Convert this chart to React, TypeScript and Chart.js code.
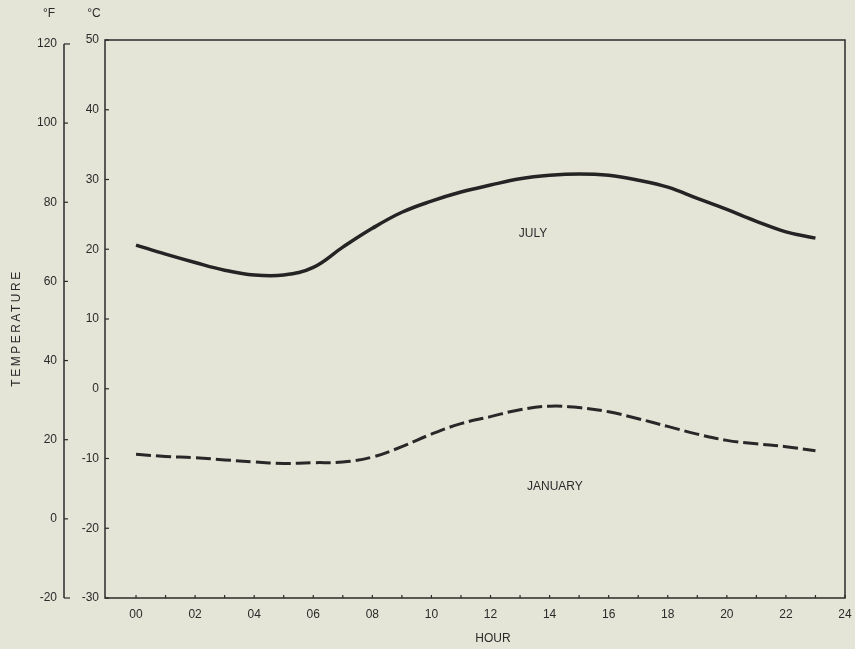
import React, { useEffect, useRef } from "react";
import { Chart, registerables } from "chart.js";

Chart.register(...registerables);

const hours = [0, 1, 2, 3, 4, 5, 6, 7, 8, 9, 10, 11, 12, 13, 14, 15, 16, 17, 18, 19, 20, 21, 22, 23];
const julyC = [20.6, 19.3, 18.1, 17.0, 16.3, 16.3, 17.4, 20.3, 23.0, 25.3, 26.9, 28.2, 29.2, 30.1, 30.6, 30.8, 30.6, 29.9, 28.9, 27.3, 25.7, 24.0, 22.5, 21.6];
const januaryC = [-9.4, -9.7, -9.9, -10.2, -10.5, -10.7, -10.6, -10.5, -9.8, -8.3, -6.5, -5.0, -4.0, -3.0, -2.5, -2.7, -3.3, -4.3, -5.4, -6.5, -7.4, -7.9, -8.3, -8.9];

const hourTicks = [0, 2, 4, 6, 8, 10, 12, 14, 16, 18, 20, 22, 24];
const hourMinorTicks = [0, 1, 2, 3, 4, 5, 6, 7, 8, 9, 10, 11, 12, 13, 14, 15, 16, 17, 18, 19, 20, 21, 22, 23, 24];
const fTicks = [-20, 0, 20, 40, 60, 80, 100, 120];
const cTicks = [-30, -20, -10, 0, 10, 20, 30, 40, 50];

const seriesNames = ["JULY", "JANUARY"];
const labelHours = [13.44, 14.18];
const labelTemps = [22.3, -14.1];

const INK = "#2a2a2a";
const BG = "#e4e5d7";
const FONT = "'Liberation Sans', Arial, Helvetica, sans-serif";

const decorPlugin = {
  id: "decor",
  beforeDraw(chart: any) {
    const { ctx, width, height } = chart;
    ctx.save();
    ctx.fillStyle = BG;
    ctx.fillRect(0, 0, width, height);
    ctx.restore();
  },
  afterDraw(chart: any) {
    const { ctx, chartArea } = chart;
    const x = chart.scales.x;
    const yC = chart.scales.yC;
    const yF = chart.scales.yF;
    ctx.save();
    ctx.strokeStyle = INK;
    ctx.lineWidth = 1.5;
    ctx.strokeRect(chartArea.left, chartArea.top, chartArea.right - chartArea.left, chartArea.bottom - chartArea.top);
    ctx.lineWidth = 1.2;
    cTicks.forEach((v) => {
      const py = yC.getPixelForValue(v);
      ctx.beginPath();
      ctx.moveTo(chartArea.left, py);
      ctx.lineTo(chartArea.left + 4, py);
      ctx.stroke();
    });
    const fx = yF.right;
    const fTop = yF.getPixelForValue(fTicks[fTicks.length - 1]);
    const fBot = yF.getPixelForValue(fTicks[0]);
    ctx.lineWidth = 1.5;
    ctx.beginPath();
    ctx.moveTo(fx, fTop);
    ctx.lineTo(fx, fBot);
    ctx.stroke();
    ctx.lineWidth = 1.2;
    fTicks.forEach((v, i) => {
      const py = yF.getPixelForValue(v);
      const len = i === 0 || i === fTicks.length - 1 ? 6 : 4;
      ctx.beginPath();
      ctx.moveTo(fx, py);
      ctx.lineTo(fx + len, py);
      ctx.stroke();
    });
    hourMinorTicks.forEach((h) => {
      const px = x.getPixelForValue(h);
      ctx.beginPath();
      ctx.moveTo(px, chartArea.bottom);
      ctx.lineTo(px, chartArea.bottom - 3);
      ctx.stroke();
    });
    ctx.fillStyle = INK;
    ctx.font = `12px ${FONT}`;
    ctx.textAlign = "center";
    ctx.textBaseline = "middle";
    seriesNames.forEach((name, i) => {
      ctx.fillText(name, x.getPixelForValue(labelHours[i]), yC.getPixelForValue(labelTemps[i]));
    });
    ctx.fillText("HOUR", 493, 639);
    ctx.fillText("°F", 49, 14);
    ctx.fillText("°C", 94, 14);
    ctx.save();
    ctx.translate(17, 328);
    ctx.rotate(-Math.PI / 2);
    (ctx as any).letterSpacing = "2.5px";
    ctx.fillText("TEMPERATURE", 0, 0);
    ctx.restore();
    ctx.restore();
  },
};

export default function App() {
  const ref = useRef<HTMLCanvasElement>(null);
  useEffect(() => {
    document.body.style.margin = "0";
    document.body.style.background = BG;
    const canvas = ref.current!;
    const chart = new Chart(canvas, {
      type: "line",
      data: {
        datasets: [
          {
            label: "JULY",
            data: hours.map((h, i) => ({ x: h, y: julyC[i] })),
            borderColor: "#242424",
            borderWidth: 3.5,
            pointRadius: 0,
            tension: 0.4,
            fill: false,
            yAxisID: "yC",
          },
          {
            label: "JANUARY",
            data: hours.map((h, i) => ({ x: h, y: januaryC[i] })),
            borderColor: "#282828",
            borderWidth: 3,
            borderDash: [15, 5],
            pointRadius: 0,
            tension: 0.4,
            fill: false,
            yAxisID: "yC",
          },
        ],
      },
      options: {
        animation: false,
        responsive: false,
        maintainAspectRatio: false,
        layout: { padding: { top: 40, right: 10, left: 0, bottom: 0 } },
        plugins: { legend: { display: false }, tooltip: { enabled: false } },
        scales: {
          x: {
            type: "linear",
            min: -1.05,
            max: 24,
            grid: { display: false, drawTicks: false },
            border: { display: false },
            afterBuildTicks: (s: any) => {
              s.ticks = hourTicks.map((v) => ({ value: v }));
            },
            afterFit: (s: any) => {
              s.height = 51;
              s.paddingLeft = 0;
              s.paddingRight = 0;
            },
            ticks: {
              padding: 9,
              color: INK,
              font: { family: FONT, size: 12 },
              maxRotation: 0,
              autoSkip: false,
              callback: (v: any) => String(v).padStart(2, "0"),
            },
          },
          yC: {
            type: "linear",
            position: "left",
            weight: 1,
            min: -30,
            max: 50,
            grid: { display: false, drawTicks: false },
            border: { display: false },
            afterBuildTicks: (s: any) => {
              s.ticks = cTicks.map((v) => ({ value: v }));
            },
            afterFit: (s: any) => {
              s.width = 41;
              s.paddingTop = 0;
              s.paddingBottom = 0;
            },
            ticks: {
              padding: 6,
              color: INK,
              font: { family: FONT, size: 12 },
              autoSkip: false,
              callback: (v: any) => String(v),
            },
          },
          yF: {
            type: "linear",
            position: "left",
            weight: 2,
            min: -20,
            max: 121,
            grid: { display: false, drawTicks: false },
            border: { display: false },
            afterBuildTicks: (s: any) => {
              s.ticks = fTicks.map((v) => ({ value: v }));
            },
            afterFit: (s: any) => {
              s.width = 64;
              s.paddingTop = 0;
              s.paddingBottom = 0;
            },
            ticks: {
              padding: 7,
              color: INK,
              font: { family: FONT, size: 12 },
              autoSkip: false,
              callback: (v: any) => String(v),
            },
          },
        },
      },
      plugins: [decorPlugin],
    });
    return () => chart.destroy();
  }, []);
  return (
    <div style={{ width: 855, height: 649 }}>
      <canvas ref={ref} width={855} height={649} style={{ display: "block" }} />
    </div>
  );
}
